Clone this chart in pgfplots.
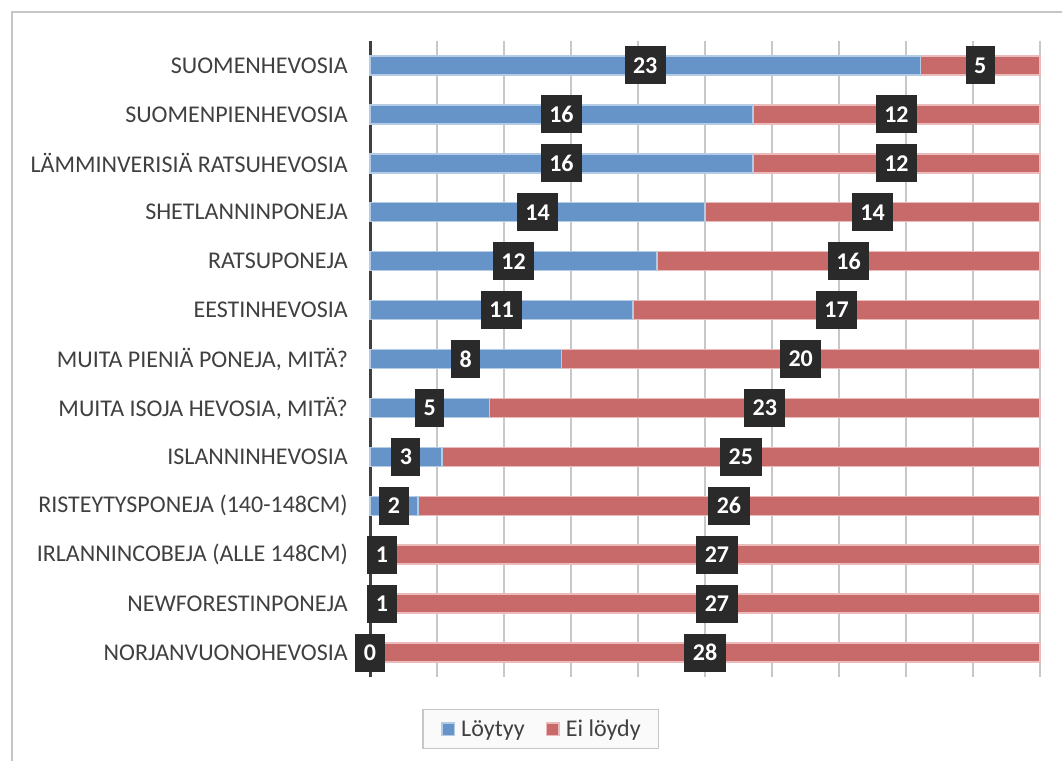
\documentclass[border=0pt]{standalone}
\usepackage{pgfplots}
\pgfplotsset{compat=1.18}
\usepackage{pgfplotstable}
\usepackage{fontspec}
\setmainfont{Carlito}
\definecolor{barblue}{HTML}{6794C8}
\definecolor{barblueedge}{HTML}{B4CBE6}
\definecolor{barred}{HTML}{C96A6A}
\definecolor{barrededge}{HTML}{EBBABA}
\definecolor{boxgray}{HTML}{2A2A2A}
\definecolor{txtgray}{HTML}{404040}
\definecolor{gridgray}{HTML}{C8C8C8}
\definecolor{framegray}{HTML}{C6C6C6}

\pgfplotstableread{
idx blue red
0 23 5
1 16 12
2 16 12
3 14 14
4 12 16
5 11 17
6 8 20
7 5 23
8 3 25
9 2 26
10 1 27
11 1 27
12 0 28
}\datatable

\begin{document}
\begin{tikzpicture}[x=1pt,y=1pt]
\useasboundingbox (0,0) rectangle (1062,760);
\draw[framegray, line width=2pt] (12,-10) rectangle (1071,748);
\begin{axis}[
  at={(370pt,83pt)}, anchor=south west,
  scale only axis, width=670pt, height=636pt,
  xbar stacked, bar width=19pt,
  xmin=0, xmax=28, ymin=-0.5, ymax=12.5,
  y dir=reverse,
  clip=false,
  axis line style={draw=none},
  xtick={0,2.8,5.6,8.4,11.2,14,16.8,19.6,22.4,25.2,28},
  xticklabels={},
  xmajorgrids,
  major grid style={gridgray, line width=1.4pt},
  major tick length=0pt,
  ytick={0,...,12},
  yticklabels={SUOMENHEVOSIA,SUOMENPIENHEVOSIA,LÄMMINVERISIÄ RATSUHEVOSIA,SHETLANNINPONEJA,RATSUPONEJA,EESTINHEVOSIA,{MUITA PIENIÄ PONEJA, MITÄ?},{MUITA ISOJA HEVOSIA, MITÄ?},ISLANNINHEVOSIA,RISTEYTYSPONEJA (140-148CM),IRLANNINCOBEJA (ALLE 148CM),NEWFORESTINPONEJA,NORJANVUONOHEVOSIA},
  yticklabel style={font=\fontsize{24}{28}\selectfont, text=txtgray, anchor=east, inner sep=0pt, xshift=-22pt},
  legend style={at={(0.255,-0.082)}, anchor=center, legend columns=2,
    draw=framegray, line width=1.3pt, fill=white!98!black,
    font=\fontsize{24}{28}\selectfont, text=txtgray,
    inner xsep=18pt, inner ysep=10.5pt,
    nodes={inner sep=0pt},
    column sep=6pt,
    /tikz/every even column/.append style={column sep=21pt}},
  legend image code/.code={\fill[#1] (0pt,-6.3pt) rectangle (12.7pt,6.3pt);},
  nodes near coords,
  point meta=explicit symbolic,
  every node near coord/.style={fill=boxgray, text=white, font=\bfseries\fontsize{24}{28}\selectfont, inner xsep=8.5pt, inner ysep=0pt, minimum height=38pt, anchor=center},
]
\addplot[fill=barblue, draw=barblueedge, line width=1.5pt] table[x=blue, y=idx, meta=blue] {\datatable};
\addlegendentry{Löytyy}
\addplot[fill=barred, draw=barrededge, line width=1.5pt] table[x=red, y=idx, meta=red] {\datatable};
\addlegendentry{Ei löydy}
\draw[txtgray, line width=3pt] (rel axis cs:0,0) -- (rel axis cs:0,1);
\addplot[forget plot, sharp plot, stack plots=false, draw=none, mark=none]
  coordinates {(0,12)[0]};
\end{axis}
\end{tikzpicture}
\end{document}
